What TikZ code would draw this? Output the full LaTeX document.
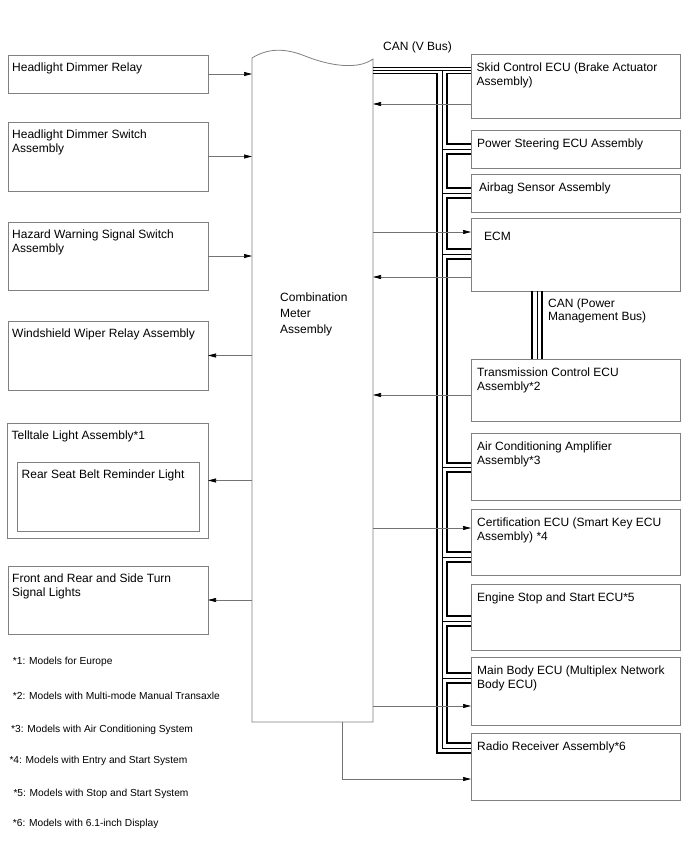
\documentclass[tikz,border=0pt]{standalone}
\usepackage{fontspec}
\setmainfont{Liberation Sans}
\usetikzlibrary{arrows.meta,calc}
\definecolor{boxgray}{gray}{0.5}
\definecolor{linegray}{gray}{0.45}
\begin{document}
\begin{tikzpicture}[x=1pt,y=-1pt,
 box/.style={draw=boxgray, line width=0.8pt, inner sep=0pt, outer sep=0pt, anchor=north west, rectangle},
 lbox/.style={box, minimum width=200pt},
 rbox/.style={box, minimum width=209pt},
 lbl/.style={anchor=north west, inner sep=0pt, align=left, font=\fontsize{12}{14}\selectfont},
 arr/.style={draw=linegray, line width=0.7pt, -{Triangle[length=8pt,width=4pt,color=black]}},
 thk/.style={line width=1.8pt, black},
 thn/.style={line width=0.8pt, black},
 note/.style={anchor=base west, inner sep=0pt, font=\fontsize{10.2}{12}\selectfont}]
\useasboundingbox (0,0) rectangle (688,852);

% left boxes
\node[lbox, minimum height=38pt] (relay) at (8,55) {};
\node[lbl] at ([shift={(4,7.5)}]relay.north west) {Headlight Dimmer Relay};
\node[lbox, minimum height=69pt] (dswitch) at (8,122) {};
\node[lbl] at ([shift={(4,7.5)}]dswitch.north west) {Headlight Dimmer Switch\\Assembly};
\node[lbox, minimum height=68pt] (hazard) at (8,222) {};
\node[lbl] at ([shift={(4,7.5)}]hazard.north west) {Hazard Warning Signal Switch\\Assembly};
\node[lbox, minimum height=69pt] (wiper) at (8,321) {};
\node[lbl] at ([shift={(4,7.5)}]wiper.north west) {Windshield Wiper Relay Assembly};
\node[box, minimum width=201pt, minimum height=115pt] (telltale) at (7,423) {};
\node[lbl] at ([shift={(4.5,7.5)}]telltale.north west) {Telltale Light Assembly*1};
\node[box, minimum width=182pt, minimum height=69pt] (belt) at (17,462) {};
\node[lbl] at ([shift={(4.5,7.5)}]belt.north west) {Rear Seat Belt Reminder Light};
\node[lbox, minimum height=68pt] (turn) at (8,566) {};
\node[lbl] at ([shift={(4,7.5)}]turn.north west) {Front and Rear and Side Turn\\Signal Lights};

% combination meter
\node[inner sep=0pt, outer sep=0pt, minimum width=121pt, minimum height=664pt, anchor=north west] (meter) at (252,58) {};
\draw[draw=boxgray, line width=0.8pt] (252,58) .. controls (268,48) and (285,48) .. (305,56)
  .. controls (330,66) and (358,70) .. (373,59) -- (373,722) -- (252,722) -- cycle;
\node[lbl, font=\fontsize{12}{16}\selectfont] at (280,292.5) {Combination\\Meter\\Assembly};

% right boxes
\node[rbox, minimum height=64pt] (skid) at (471,54) {};
\node[lbl] at ([shift={(5.5,8.5)}]skid.north west) {Skid Control ECU (Brake Actuator\\Assembly)};
\node[rbox, minimum height=38pt] (ps) at (471,130) {};
\node[lbl] at ([shift={(6,8.5)}]ps.north west) {Power Steering ECU Assembly};
\node[rbox, minimum height=38pt] (airbag) at (471,174) {};
\node[lbl] at ([shift={(8,8.5)}]airbag.north west) {Airbag Sensor Assembly};
\node[rbox, minimum height=73pt] (ecm) at (471,218) {};
\node[lbl] at ([shift={(13,13.5)}]ecm.north west) {ECM};
\node[rbox, minimum height=62pt] (trans) at (471,359) {};
\node[lbl] at ([shift={(6,8.5)}]trans.north west) {Transmission Control ECU\\Assembly*2};
\node[rbox, minimum height=67pt] (ac) at (471,433) {};
\node[lbl] at ([shift={(6,8.5)}]ac.north west) {Air Conditioning Amplifier\\Assembly*3};
\node[rbox, minimum height=66pt] (cert) at (471,509) {};
\node[lbl] at ([shift={(6,8.5)}]cert.north west) {Certification ECU (Smart Key ECU\\Assembly) *4};
\node[rbox, minimum height=66pt] (engine) at (471,584) {};
\node[lbl] at ([shift={(6,8.5)}]engine.north west) {Engine Stop and Start ECU*5};
\node[rbox, minimum height=68pt] (main) at (471,657) {};
\node[lbl] at ([shift={(6,8.5)}]main.north west) {Main Body ECU (Multiplex Network\\Body ECU)};
\node[rbox, minimum height=67pt] (radio) at (471,733) {};
\node[lbl] at ([shift={(6,8.5)}]radio.north west) {Radio Receiver Assembly*6};

% CAN (V Bus)
\node[anchor=base west, inner sep=0pt, font=\fontsize{12}{14}\selectfont] (canv) at (383,50) {CAN (V Bus)};
\draw[thk] (meter.east |- 0,67.5) -- (skid.west |- 0,67.5);
\draw[thn] (meter.east |- 0,70.5) -- (skid.west |- 0,70.5);
\draw[thk] (meter.east |- 0,73.5) -- (437,73.5) -- (437,753) -- (radio.west |- 0,753);
\draw[thn] (442,70.5) -- (442,748) -- (radio.west |- 0,748);
\foreach \y in {149,193,254,467.5,557,621,678} \draw[thn] (442,\y) -- (471,\y);
\foreach \a/\b in {73.5/144,154/188,198/249,259/463,472/552,562/616,626/673,683/743}
  \draw[thk] (471,\a) -- (447,\a) -- (447,\b) -- (471,\b);

% CAN (Power Management Bus)
\draw[thk] (ecm.south -| 532,0) -- (trans.north -| 532,0);
\draw[thn] (ecm.south -| 537,0) -- (trans.north -| 537,0);
\draw[thk] (ecm.south -| 542,0) -- (trans.north -| 542,0);
\node[lbl, font=\fontsize{12}{13.5}\selectfont] (canp) at (548,298.5) {CAN (Power\\Management Bus)};

% arrows left
\draw[arr] (relay.east) -- (relay.east -| meter.west);
\draw[arr] (dswitch.east) -- (dswitch.east -| meter.west);
\draw[arr] (hazard.east) -- (hazard.east -| meter.west);
\draw[arr] (wiper.east -| meter.west) -- (wiper.east);
\draw[arr] (telltale.east -| meter.west) -- (telltale.east);
\draw[arr] (turn.east -| meter.west) -- (turn.east);

% arrows right
\draw[arr] (skid.west |- 0,104) -- (meter.east |- 0,104);
\draw[arr] (meter.east |- 0,232) -- (ecm.west |- 0,232);
\draw[arr] (ecm.west |- 0,277) -- (meter.east |- 0,277);
\draw[arr] (trans.west |- 0,395) -- (meter.east |- 0,395);
\draw[arr] (meter.east |- 0,528) -- (cert.west |- 0,528);
\draw[arr] (meter.east |- 0,706) -- (main.west |- 0,706);
\draw[arr] (meter.south -| 342,0) -- (342,779) -- (radio.west |- 0,779);

% footnotes
\node[note] (n1) at (12.7,664) {*1: Models for Europe};
\node[note] (n2) at (12.7,699) {*2: Models with Multi-mode Manual Transaxle};
\node[note] (n3) at (11,732) {*3: Models with Air Conditioning System};
\node[note] (n4) at (9.3,763.5) {*4: Models with Entry and Start System};
\node[note] (n5) at (13.3,796.5) {*5: Models with Stop and Start System};
\node[note] (n6) at (12.7,826) {*6: Models with 6.1-inch Display};
\end{tikzpicture}
\end{document}
